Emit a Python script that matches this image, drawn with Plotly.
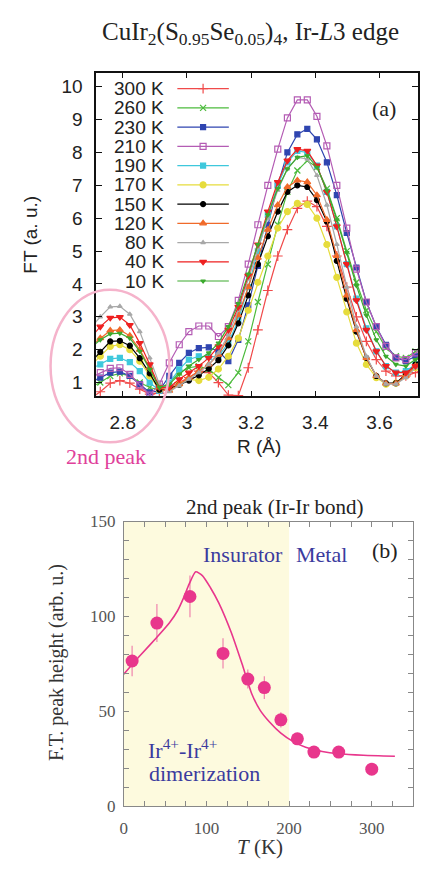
import plotly.graph_objects as go

# ---------------- data: panel (a) FT magnitude vs R ----------------
R = [2.699, 2.730, 2.761, 2.791, 2.822, 2.853, 2.884, 2.914, 2.945, 2.976,
     3.006, 3.037, 3.068, 3.098, 3.129, 3.160, 3.191, 3.221, 3.252, 3.283,
     3.313, 3.344, 3.375, 3.405, 3.436, 3.467, 3.498, 3.528, 3.559, 3.590,
     3.620, 3.651, 3.682, 3.712, 3.743]

ft_300 = [0.5, 0.72, 0.98, 1.06, 0.98, 0.8, 0.65, 0.68, 0.85, 1.0,
          1.15, 1.35, 1.3, 1.0, 0.62, 0.6, 1.45, 2.6, 3.8, 4.85,
          5.65, 6.3, 6.52, 6.35, 5.75, 4.85, 3.9, 3.0, 2.25, 1.7,
          1.35, 1.2, 1.2, 1.3, 1.45]
ft_260 = [0.85, 1.0, 1.2, 1.28, 1.2, 1.0, 0.85, 0.78, 1.0, 1.3,
          1.45, 1.5, 1.4, 1.15, 0.92, 1.3, 2.25, 3.45, 4.6, 5.8,
          6.8, 7.45, 7.75, 7.55, 6.9, 6.0, 5.0, 4.05, 3.2, 2.55,
          2.05, 1.8, 1.75, 1.95, 2.15]
ft_230 = [1.0, 1.15, 1.3, 1.33, 1.2, 0.95, 0.7, 0.75, 1.2, 1.6,
          1.9, 2.05, 2.07, 1.95, 1.65, 2.3, 3.35, 4.55, 5.8, 7.0,
          8.0, 8.55, 8.72, 8.4, 7.7, 6.7, 5.55, 4.5, 3.45, 2.7,
          2.15, 1.75, 1.65, 1.8, 2.0]
ft_210 = [1.15, 1.3, 1.43, 1.45, 1.25, 0.92, 0.62, 0.95, 1.6, 2.15,
          2.55, 2.72, 2.72, 2.4, 2.7, 3.5, 4.6, 5.8, 7.0, 8.1,
          9.05, 9.6, 9.6, 9.1, 8.2, 7.0, 5.7, 4.45, 3.45, 2.7,
          2.1, 1.75, 1.7, 1.9, 2.1]
ft_190 = [1.4, 1.55, 1.72, 1.75, 1.62, 1.35, 1.0, 0.75, 1.0, 1.4,
          1.7, 1.8, 1.78, 1.8, 2.2, 2.9, 3.9, 5.0, 6.1, 7.0,
          7.7, 8.05, 8.0, 7.6, 6.8, 5.75, 4.6, 3.55, 2.65, 1.95,
          1.5, 1.3, 1.35, 1.55, 1.8]
ft_170 = [1.5, 1.8, 2.1, 2.15, 2.0, 1.65, 1.2, 0.78, 0.8, 0.95,
          1.1, 1.06, 1.16, 1.41, 1.8, 2.35, 3.2, 4.05, 4.85, 5.7,
          6.2, 6.45, 6.42, 6.0, 5.2, 4.2, 3.15, 2.2, 1.55, 1.15,
          0.95, 0.98, 1.2, 1.45, 1.7]
ft_150 = [1.6, 1.93, 2.25, 2.27, 2.12, 1.74, 1.28, 0.78, 0.82, 0.93,
          1.06, 1.22, 1.42, 1.68, 2.13, 2.8, 3.65, 4.6, 5.45, 6.2,
          6.8, 7.0, 6.95, 6.55, 5.9, 4.7, 3.55, 2.55, 1.75, 1.2,
          0.98, 0.98, 1.25, 1.55, 1.85]
ft_120 = [2.1, 2.35, 2.58, 2.6, 2.42, 2.0, 1.45, 0.85, 0.75, 0.95,
          1.15, 1.35, 1.55, 1.85, 2.35, 3.05, 3.9, 4.8, 5.65, 6.4,
          6.95, 7.15, 7.1, 6.7, 5.95, 4.85, 3.65, 2.6, 1.75, 1.2,
          0.97, 0.97, 1.2, 1.5, 1.8]
ft_80 = [2.65, 3.0, 3.3, 3.32, 3.08, 2.55, 1.75, 0.95, 0.72, 0.9,
         1.1, 1.3, 1.55, 1.9, 2.45, 3.2, 4.15, 5.1, 6.0, 6.85,
         7.5, 7.85, 7.8, 7.3, 6.4, 5.2, 3.9, 2.7, 1.8, 1.2,
         0.95, 0.95, 1.15, 1.45, 1.75]
ft_40 = [2.35, 2.7, 2.97, 2.99, 2.75, 2.2, 1.55, 0.85, 0.85, 1.1,
         1.3, 1.5, 1.75, 2.1, 2.6, 3.3, 4.25, 5.2, 6.2, 7.1,
         7.75, 8.1, 8.05, 7.6, 6.8, 5.75, 4.6, 3.5, 2.6, 1.95,
         1.5, 1.3, 1.3, 1.5, 1.75]
ft_10 = [2.05, 2.3, 2.48, 2.5, 2.35, 1.95, 1.4, 0.85, 0.95, 1.25,
         1.5, 1.7, 1.9, 2.2, 2.7, 3.4, 4.3, 5.2, 6.1, 6.9,
         7.5, 7.85, 7.9, 7.55, 6.85, 5.95, 4.95, 3.95, 3.05, 2.3,
         1.8, 1.55, 1.5, 1.7, 1.95]

series_labels = ["300 K", "260 K", "230 K", "210 K", "190 K", "170 K",
                 "150 K", "120 K", "80 K", "40 K", "10 K"]
r_ticks = [2.8, 3.0, 3.2, 3.4, 3.6]
r_ticktext = ["2.8", "3", "3.2", "3.4", "3.6"]

# ---------------- data: panel (b) 2nd peak height vs T ----------------
T_pts = [10, 40, 80, 120, 150, 170, 190, 210, 230, 260, 300]
peak_h = [76.5, 96.5, 110.5, 80.5, 67, 62.5, 45.5, 35.5, 28.5, 28.5, 19.5]
peak_err = [8, 10, 11, 8, 5, 6, 4, 3, 3, 3, 2]
fit_T = [0, 20, 40, 55, 65, 72, 79, 87, 95, 105, 115, 130, 143, 155, 165,
         176, 190, 205, 220, 240, 260, 290, 328]
fit_h = [69.6, 79.5, 89, 96.5, 103, 109.5, 117, 123.5, 121.5, 115, 107,
         91.5, 75, 59, 50.5, 44.5, 38.5, 34, 31, 28.8, 27.6, 26.8, 26.3]
insulator_T = [0, 200]

# ---------------- styles ----------------
series_data = [ft_300, ft_260, ft_230, ft_210, ft_190, ft_170,
               ft_150, ft_120, ft_80, ft_40, ft_10]
styles = [
    ("#f04a4a", "cross-thin", 7),
    ("#4cbb3c", "x-thin", 6),
    ("#2f45b0", "square", 5),
    ("#b45cb4", "square-open", 6),
    ("#3ec8dc", "square", 5),
    ("#e6dc3c", "circle", 6),
    ("#000000", "circle", 5),
    ("#f06a2a", "triangle-up", 6),
    ("#a8a8a8", "triangle-up", 4),
    ("#ee2020", "triangle-down", 6),
    ("#3caa2e", "triangle-down", 4),
]

W, H = 421, 869
A_L, A_R, A_T, A_B = 93, 418, 65, 396
B_L, B_R, B_T, B_B = 121, 413, 524, 815

def px_x(x):
    return x / W

def px_y(y):
    return 1 - y / H

SANS = "Liberation Sans, Arial, sans-serif"
SERIF = "Liberation Serif, Times New Roman, serif"
PINK = "#e8368c"
BLUE = "#3b3b9e"

fig = go.Figure()

for data, (col, sym, ms) in zip(series_data, styles):
    fig.add_trace(go.Scatter(
        x=R, y=data, mode="lines+markers", xaxis="x", yaxis="y",
        line=dict(color=col, width=1.2),
        marker=dict(symbol=sym, size=ms, color=col,
                    line=dict(color=col, width=1.2)),
        hoverinfo="skip"))

# manual legend (text left of sample, as in the reference)
leg_x0 = (175 - A_L) / (A_R - A_L)
leg_x1 = (227 - A_L) / (A_R - A_L)
leg_xt = (164 - A_L) / (A_R - A_L)
annotations = []
for i, (lab, (col, sym, ms)) in enumerate(zip(series_labels, styles)):
    yy = (A_B - (81.5 + 19.66 * i)) / (A_B - A_T)
    fig.add_trace(go.Scatter(
        x=[leg_x0, (leg_x0 + leg_x1) / 2, leg_x1], y=[yy, yy, yy],
        mode="lines+markers", xaxis="x3", yaxis="y3",
        line=dict(color=col, width=1.2),
        marker=dict(symbol=sym, size=ms, color=col, opacity=[0, 1, 0],
                    line=dict(color=col, width=1.2)),
        hoverinfo="skip", cliponaxis=False))
    annotations.append(dict(
        text=lab, xref="x domain", yref="y domain", x=leg_xt, y=yy,
        xanchor="right", yanchor="middle", showarrow=False,
        font=dict(family=SANS, size=19, color="#222")))

# panel (b)
fig.add_trace(go.Scatter(
    x=fit_T, y=fit_h, mode="lines", xaxis="x2", yaxis="y2",
    line=dict(color=PINK, width=1.6, shape="spline", smoothing=0.6),
    hoverinfo="skip"))
fig.add_trace(go.Scatter(
    x=T_pts, y=peak_h, mode="markers", xaxis="x2", yaxis="y2",
    marker=dict(size=13, color=PINK),
    error_y=dict(type="data", array=peak_err, color="rgba(232,54,140,0.6)",
                 thickness=1.2, width=0),
    hoverinfo="skip"))

shapes = [
    dict(type="rect", xref="x2", yref="y2", x0=insulator_T[0], x1=insulator_T[1],
         y0=0, y1=150, fillcolor="#fdfade", line=dict(width=0), layer="below"),
    dict(type="circle", xref="paper", yref="paper",
         x0=px_x(47), x1=px_x(167), y0=px_y(443), y1=px_y(287),
         line=dict(color="#f5b3cb", width=2.5), layer="above"),
]

def note(text, x, y, font, xa="center", angle=0):
    return dict(text=text, xref="paper", yref="paper", x=px_x(x), y=px_y(y),
                xanchor=xa, yanchor="middle", textangle=angle,
                showarrow=False, font=font)

annotations += [
    note("CuIr<sub>2</sub>(S<sub>0.95</sub>Se<sub>0.05</sub>)<sub>4</sub>, Ir-<i>L</i>3 edge",
         249, 25, dict(family=SERIF, size=25, color="#222")),
    note("FT (a. u.)", 27, 231, dict(family=SANS, size=19, color="#222"), angle=-90),
    note("R (Å)", 257, 447, dict(family=SANS, size=19, color="#222")),
    note("(a)", 384, 102, dict(family=SERIF, size=22, color="#222")),
    note("2nd peak", 103, 457, dict(family=SERIF, size=22, color="#e0409a")),
    note("2nd peak (Ir-Ir bond)", 273, 509, dict(family=SERIF, size=21, color="#222")),
    note("Insurator", 241, 558, dict(family=SERIF, size=22, color=BLUE)),
    note("Metal", 321, 558, dict(family=SERIF, size=22, color=BLUE)),
    note("(b)", 385, 554, dict(family=SERIF, size=22, color="#222")),
    note("Ir<sup>4+</sup>-Ir<sup>4+</sup>", 143, 757,
         dict(family=SERIF, size=22, color=BLUE), xa="left"),
    note("dimerization", 144, 782, dict(family=SERIF, size=22, color=BLUE), xa="left"),
    note("F.T. peak height (arb. u.)", 53, 668,
         dict(family=SERIF, size=20, color="#333"), angle=-90),
    note("<i>T</i> (K)", 258, 857, dict(family=SERIF, size=21, color="#333")),
]

axis_a = dict(showline=True, mirror="ticks", linecolor="#111", linewidth=1.5,
              ticks="inside", ticklen=6, tickwidth=1.2, tickcolor="#111",
              showgrid=False, zeroline=False,
              tickfont=dict(family=SANS, size=19, color="#222"))
axis_b = dict(showline=True, mirror="ticks", linecolor="#888", linewidth=1,
              ticks="inside", ticklen=5, tickwidth=1, tickcolor="#888",
              showgrid=False, zeroline=False,
              tickfont=dict(family=SERIF, size=17, color="#555"))

fig.update_layout(
    width=W, height=H, margin=dict(l=0, r=0, t=0, b=0),
    paper_bgcolor="white", plot_bgcolor="rgba(0,0,0,0)", showlegend=False,
    xaxis=dict(axis_a, domain=[px_x(A_L), px_x(A_R)], anchor="y",
               range=[2.717, 3.72], tickvals=r_ticks, ticktext=r_ticktext,
               ticklabelstandoff=8),
    yaxis=dict(axis_a, domain=[px_y(A_B), px_y(A_T)], anchor="x",
               range=[0.58, 10.43], tick0=0, dtick=1, ticklabelstandoff=8),
    xaxis3=dict(overlaying="x", anchor="y3", range=[0, 1], visible=False),
    yaxis3=dict(overlaying="y", anchor="x3", range=[0, 1], visible=False),
    xaxis2=dict(axis_b, domain=[px_x(B_L), px_x(B_R)], anchor="y2",
                range=[0, 350], tick0=0, dtick=100,
                minor=dict(dtick=25, ticks="inside", ticklen=5, tickcolor="#888"),
                ticklabelstandoff=6),
    yaxis2=dict(axis_b, domain=[px_y(B_B), px_y(B_T)], anchor="x2",
                range=[0, 150], tick0=0, dtick=50,
                minor=dict(dtick=10, ticks="inside", ticklen=5, tickcolor="#888"),
                ticklabelstandoff=4),
    shapes=shapes, annotations=annotations,
)

# remove the default page margin so the figure starts at the window corner
fig.write_html("out.html",
               config={"displayModeBar": False},
               post_script="document.body.style.margin='0';"
                           "document.body.style.overflow='hidden';")
